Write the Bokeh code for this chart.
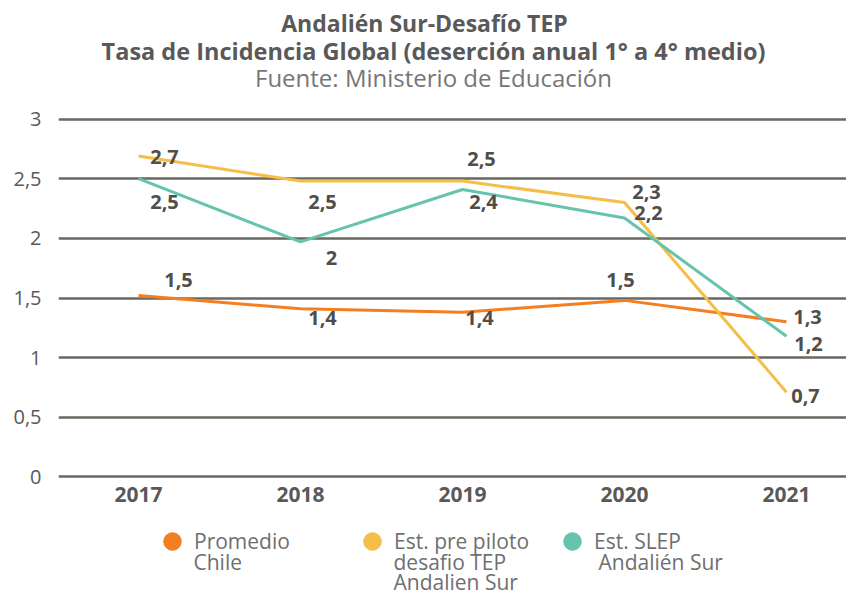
from bokeh.plotting import figure
from bokeh.layouts import column
from bokeh.models import Label, Legend, LegendItem, ColumnDataSource, FixedTicker, Range1d
from bokeh.core.properties import value
from bokeh.embed import file_html
from bokeh.resources import INLINE

years = [2017, 2018, 2019, 2020, 2021]
promedio_chile = [1.52, 1.41, 1.38, 1.48, 1.30]
pre_piloto = [2.69, 2.48, 2.48, 2.30, 0.71]
slep = [2.50, 1.97, 2.41, 2.17, 1.18]
y_ticks = [0, 0.5, 1, 1.5, 2, 2.5, 3]
series_names = [["Promedio", "Chile"],
                ["Est. pre piloto", "desafio TEP", "Andalien Sur"],
                ["Est. SLEP", " Andalién Sur"]]
title_lines = ["Andalién Sur-Desafío TEP",
               "Tasa de Incidencia Global (deserción anual 1° a 4° medio)"]
subtitle = "Fuente: Ministerio de Educación"

# ---- styling ----
FONT = "Open Sans"
W = 846
LEFT = 58
colors = ["#F47F21", "#F5BE48", "#66C4AE"]
label_dx = [[40, 22, 17, -4, 21], [26, 22, 19, 22, 19], [26, 31, 21, 24, 22]]
label_dy = [[-16, 9, 6, -20, -5], [1, 21, -22, -11, 4], [23, 16, 13, -5, 8]]
TEXT_DARK = "#595959"


def fmt(v):
    s = f"{v:.1f}"
    if s.endswith(".0"):
        s = s[:-2]
    return s.replace(".", ",")


def bare(fig):
    fig.axis.visible = False
    fig.grid.grid_line_color = None
    fig.outline_line_color = None
    return fig


# ---- header ----
HEAD_H = 100
head = bare(figure(width=W, height=HEAD_H, output_backend="svg", toolbar_location=None,
                   x_range=Range1d(0, 1), y_range=Range1d(0, 1),
                   min_border_left=LEFT, min_border_right=0, min_border_top=0, min_border_bottom=0))
head.add_layout(Label(x=424 - LEFT, y=HEAD_H - 22, x_units="screen", y_units="screen",
                      text=title_lines[0], text_font=FONT, text_font_size="23px",
                      text_font_style="bold", text_color=TEXT_DARK,
                      text_align="center", text_baseline="middle"))
head.add_layout(Label(x=433 - LEFT, y=HEAD_H - 50, x_units="screen", y_units="screen",
                      text=title_lines[1], text_font=FONT, text_font_size="23.5px",
                      text_font_style="bold", text_color=TEXT_DARK,
                      text_align="center", text_baseline="middle"))
head.add_layout(Label(x=433 - LEFT, y=HEAD_H - 77, x_units="screen", y_units="screen",
                      text=subtitle, text_font=FONT, text_font_size="24px",
                      text_font_style="normal", text_color="#767676",
                      text_align="center", text_baseline="middle"))

# ---- chart ----
p = figure(width=W, height=412, output_backend="svg", toolbar_location=None,
           x_range=Range1d(2016.5062, 2021.3704), y_range=Range1d(-0.03, 3.03),
           min_border_left=LEFT, min_border_right=0, min_border_top=15, min_border_bottom=32)
p.outline_line_color = None

p.xaxis.ticker = FixedTicker(ticks=years)
p.xaxis.major_label_text_font = FONT
p.xaxis.major_label_text_font_size = "21px"
p.xaxis.major_label_text_font_style = "bold"
p.xaxis.major_label_text_color = TEXT_DARK
p.xaxis.axis_line_color = None
p.xaxis.major_tick_line_color = None
p.xaxis.minor_tick_line_color = None
p.xaxis.major_tick_out = 0
p.xaxis.major_tick_in = 0
p.xaxis.major_label_standoff = 6

p.yaxis.ticker = FixedTicker(ticks=y_ticks)
p.yaxis.major_label_overrides = {t: fmt(t) for t in y_ticks}
p.yaxis.major_label_text_font = FONT
p.yaxis.major_label_text_font_size = "20px"
p.yaxis.major_label_text_color = TEXT_DARK
p.yaxis.axis_line_color = None
p.yaxis.major_tick_line_color = None
p.yaxis.minor_tick_line_color = None
p.yaxis.major_tick_out = 0
p.yaxis.major_tick_in = 0
p.yaxis.major_label_standoff = 17

p.xgrid.grid_line_color = None
p.ygrid.ticker = FixedTicker(ticks=y_ticks)
p.ygrid.grid_line_color = "#6b6761"
p.ygrid.grid_line_width = 2.5

series = [promedio_chile, pre_piloto, slep]
sources = []
for vals, col in zip(series, colors):
    src = ColumnDataSource(dict(x=years, y=vals))
    sources.append(src)
    p.line("x", "y", source=src, line_color=col, line_width=3)

for vals, dx, dy in zip(series, label_dx, label_dy):
    src = ColumnDataSource(dict(x=years, y=vals, label=[fmt(v) for v in vals], dx=dx, dy=dy))
    p.text("x", "y", text="label", source=src, x_offset="dx", y_offset="dy",
           text_font=value(FONT), text_font_size="20px", text_font_style="bold",
           text_color="#514d49", text_align="center", text_baseline="middle")

# ---- legend ----
LEG_H = 84
leg = bare(figure(width=W, height=LEG_H, output_backend="svg", toolbar_location=None,
                  x_range=Range1d(0, 1), y_range=Range1d(0, 1),
                  min_border_left=LEFT, min_border_right=0, min_border_top=0, min_border_bottom=0))
GLYPH = 44
ITEM_W = 200
LEG_X = 150 - LEFT
FIRST_Y = 541 - 512          # first text line centre inside the legend strip
LINE_STEP = 20
items = []
for src, col, name in zip(sources, colors, series_names):
    dot = leg.scatter("x", "y", source=src, size=0, fill_color=col, line_color=col)
    items.append(LegendItem(label=name[0], renderers=[dot]))

legend = Legend(items=items, orientation="horizontal",
                location=(LEG_X, LEG_H - FIRST_Y - GLYPH / 2),
                label_text_font=FONT, label_text_font_size="21px", label_text_color="#6f6f6f",
                glyph_width=GLYPH, glyph_height=GLYPH,
                label_standoff=-1, label_width=ITEM_W - GLYPH, spacing=0, padding=0, margin=0,
                border_line_color=None, background_fill_alpha=0)
leg.add_layout(legend, "center")

# continuation lines of the legend labels
for i, name in enumerate(series_names):
    for j, line in enumerate(name[1:]):
        indent = 5 * (len(line) - len(line.lstrip()))
        leg.add_layout(Label(x=LEG_X + i * ITEM_W + GLYPH - 1 + indent,
                             y=LEG_H - FIRST_Y - LINE_STEP * (j + 1),
                             x_units="screen", y_units="screen", text=line.strip(),
                             text_font=FONT, text_font_size="21px", text_color="#6f6f6f",
                             text_align="left", text_baseline="middle"))

layout = column(head, p, leg, spacing=0)
open("out.html", "w").write(file_html(layout, INLINE))
